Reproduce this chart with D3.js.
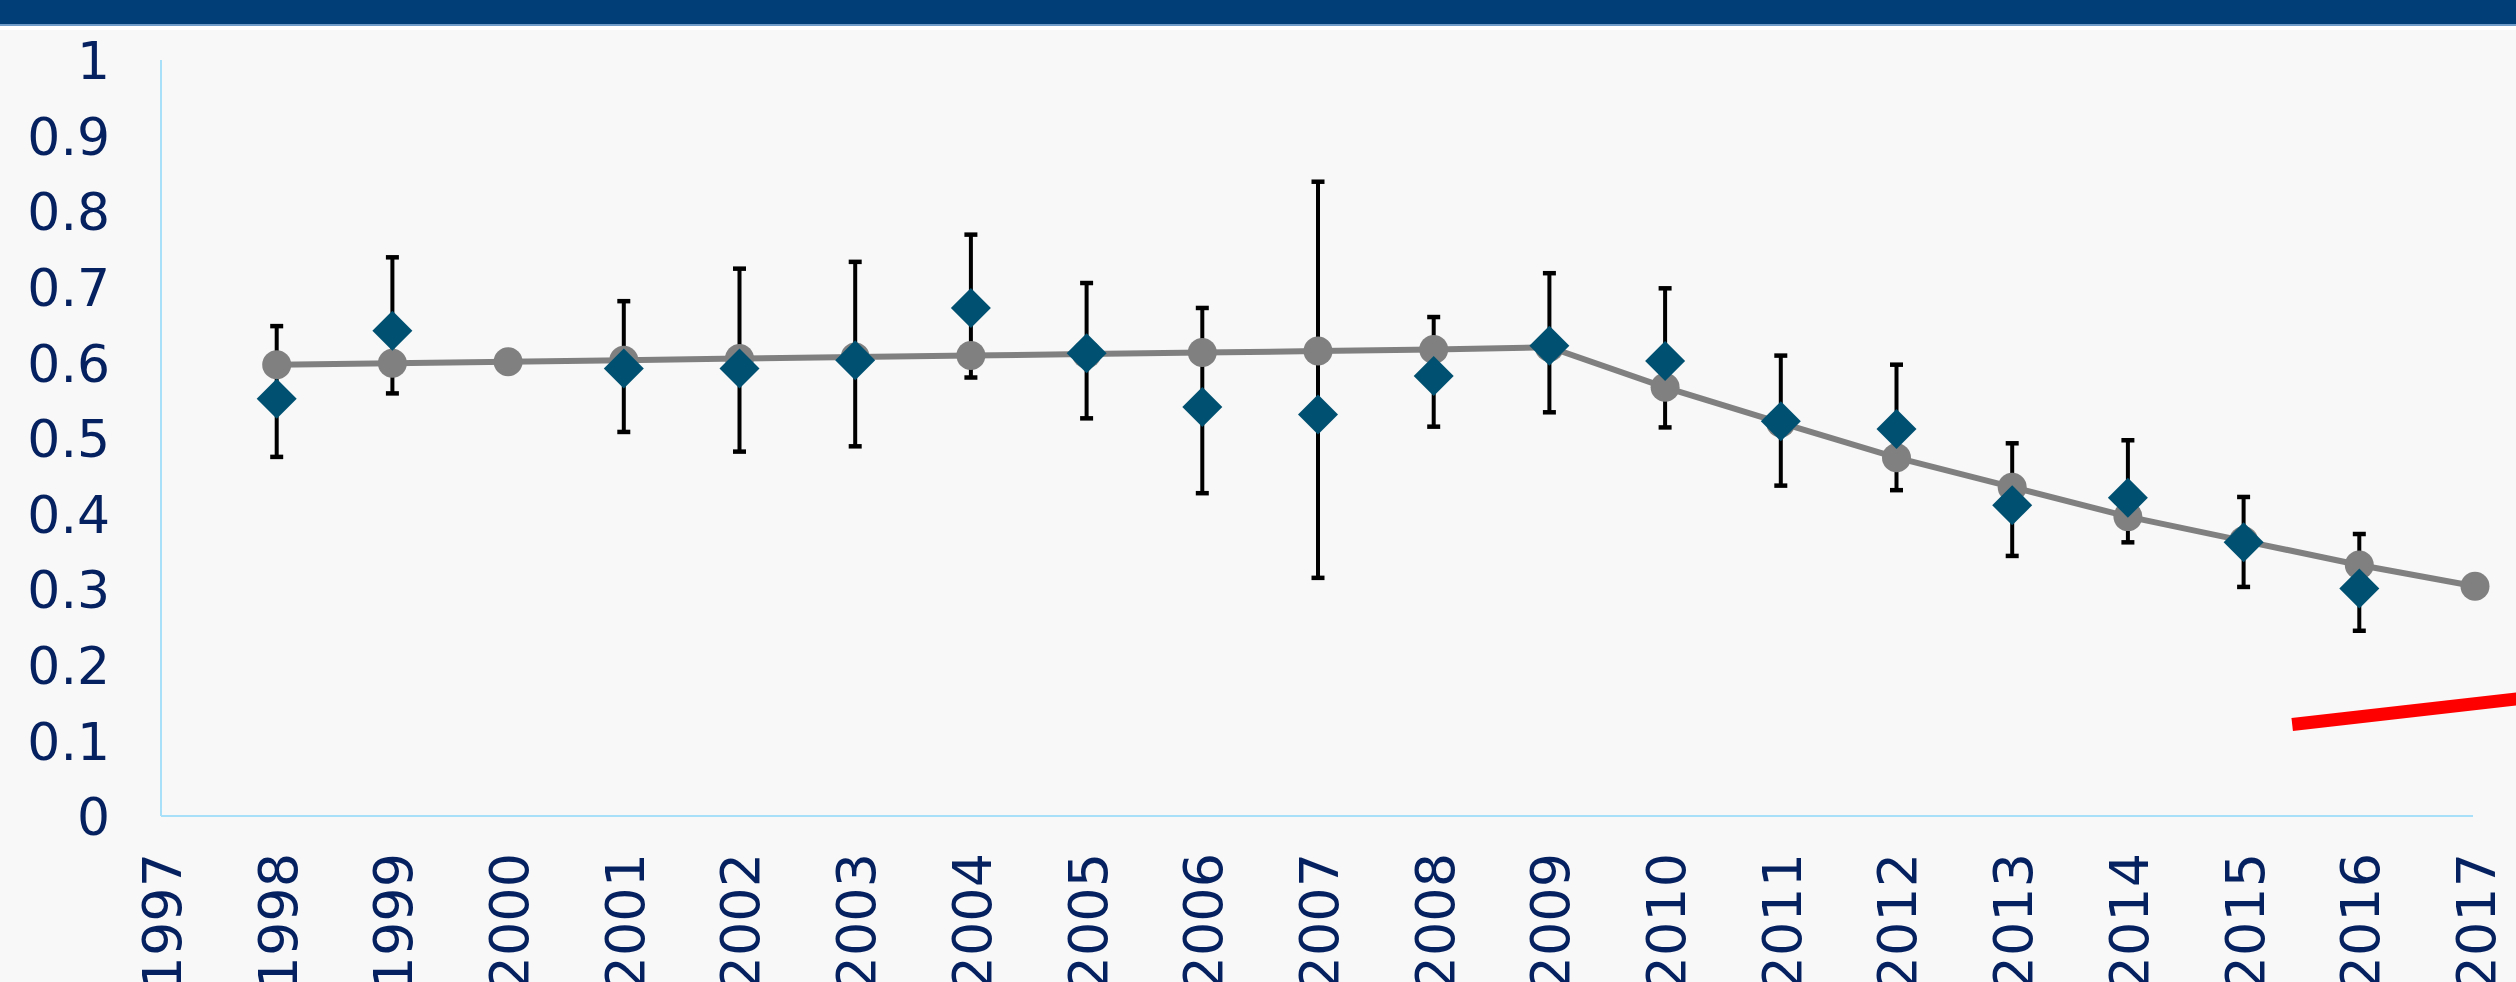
<!DOCTYPE html>
<html>
<head>
<meta charset="utf-8">
<script src="https://cdn.jsdelivr.net/npm/d3@7"></script>
<style>
  html, body { margin: 0; padding: 0; background: #f8f8f8; overflow: hidden; }
  svg { display: block; }
  text { font-family: "DejaVu Sans", Verdana, sans-serif; }
</style>
</head>
<body>
<svg id="chart" width="2516" height="982"></svg>
<script>
// ---- data ----
const tickYears = [1997,1998,1999,2000,2001,2002,2003,2004,2005,2006,2007,2008,2009,2010,2011,2012,2013,2014,2015,2016,2017];
const yTicks = [0,0.1,0.2,0.3,0.4,0.5,0.6,0.7,0.8,0.9,1];

const years = [1998,1999,2000,2001,2002,2003,2004,2005,2006,2007,2008,2009,2010,2011,2012,2013,2014,2015,2016,2017];
const trendValues = [0.597,0.599,0.601,0.603,0.605,0.607,0.609,0.611,0.613,0.615,0.617,0.620,0.567,0.520,0.474,0.435,0.396,0.364,0.332,0.304];
const observedValues = [0.552,0.642,null,0.592,0.592,0.603,0.672,0.612,0.541,0.531,0.582,0.622,0.602,0.522,0.512,0.411,0.421,0.362,0.301,null];
const upperValues = [0.648,0.739,null,0.681,0.724,0.733,0.769,0.705,0.672,0.839,0.660,0.718,0.698,0.609,0.597,0.493,0.497,0.422,0.373,null];
const lowerValues = [0.475,0.559,null,0.508,0.482,0.489,0.580,0.526,0.427,0.315,0.515,0.534,0.514,0.437,0.431,0.344,0.362,0.303,0.245,null];

const redYears = [2015.42, 2018];
const redValues = [0.121, 0.166];

// ---- layout ----
const svg = d3.select("#chart");
const W = 2516, H = 982;
const x = d3.scaleLinear().domain([1997, 2017]).range([161, 2475]);
const y = d3.scaleLinear().domain([0, 1]).range([816, 60]);

svg.append("rect").attr("width", W).attr("height", H).attr("fill", "#f8f8f8");
// header band
svg.append("rect").attr("x", 0).attr("y", 0).attr("width", W).attr("height", 24).attr("fill", "#013e78");
svg.append("rect").attr("x", 0).attr("y", 24).attr("width", W).attr("height", 2).attr("fill", "#6f9cc8");
svg.append("rect").attr("x", 0).attr("y", 26).attr("width", W).attr("height", 4).attr("fill", "#ffffff");

// axes lines
const axisColor = "#a8e0fa";
svg.append("line").attr("x1", x(1997)).attr("x2", x(1997)).attr("y1", y(1)).attr("y2", y(0))
  .attr("stroke", axisColor).attr("stroke-width", 2);
svg.append("line").attr("x1", x(1997)).attr("x2", x(2017) - 2).attr("y1", y(0)).attr("y2", y(0))
  .attr("stroke", axisColor).attr("stroke-width", 2);

// y axis labels
const yAxis = d3.axisLeft(y).tickValues(yTicks).tickFormat(d3.format("~g")).tickSize(0).tickPadding(0);
const yg = svg.append("g").attr("transform", "translate(110,0)").call(yAxis);
yg.select(".domain").remove();
yg.selectAll("text").attr("fill", "#06215f").style("font-size", "52px")
  .style("font-family", "'DejaVu Sans', Verdana, sans-serif").attr("dy", "0.36em");

// x axis labels (rotated)
const xAxis = d3.axisBottom(x).tickValues(tickYears).tickFormat(d3.format("d")).tickSize(0);
const xg = svg.append("g").attr("transform", "translate(0,853)").call(xAxis);
xg.select(".domain").remove();
xg.selectAll("text")
  .attr("fill", "#06215f").style("font-size", "54px")
  .style("font-family", "'DejaVu Sans', Verdana, sans-serif")
  .attr("text-anchor", "end")
  .attr("transform", "rotate(-90)")
  .attr("x", 0).attr("y", 0).attr("dy", "0.36em");

// data rows
const rows = years.map((yr, i) => ({
  year: yr, trend: trendValues[i], obs: observedValues[i], hi: upperValues[i], lo: lowerValues[i]
}));
const withObs = rows.filter(d => d.obs != null);

// error bars
const eb = svg.append("g").attr("stroke", "#000");
eb.selectAll("line.v").data(withObs).join("line").attr("class", "v")
  .attr("x1", d => x(d.year)).attr("x2", d => x(d.year))
  .attr("y1", d => y(d.hi)).attr("y2", d => y(d.lo)).attr("stroke-width", 4);
eb.selectAll("line.t").data(withObs).join("line").attr("class", "t")
  .attr("x1", d => x(d.year) - 6.5).attr("x2", d => x(d.year) + 6.5)
  .attr("y1", d => y(d.hi)).attr("y2", d => y(d.hi)).attr("stroke-width", 4.5);
eb.selectAll("line.b").data(withObs).join("line").attr("class", "b")
  .attr("x1", d => x(d.year) - 6.5).attr("x2", d => x(d.year) + 6.5)
  .attr("y1", d => y(d.lo)).attr("y2", d => y(d.lo)).attr("stroke-width", 4.5);

// trend line
const line = d3.line().x(d => x(d.year)).y(d => y(d.trend));
svg.append("path").datum(rows).attr("d", line)
  .attr("fill", "none").attr("stroke", "#808080").attr("stroke-width", 6);
svg.append("g").selectAll("circle").data(rows).join("circle")
  .attr("cx", d => x(d.year)).attr("cy", d => y(d.trend)).attr("r", 14.5).attr("fill", "#808080");

// diamonds
const hd = 20;
svg.append("g").selectAll("path").data(withObs).join("path")
  .attr("d", d => {
    const cx = x(d.year), cy = y(d.obs);
    return `M${cx},${cy - hd}L${cx + hd},${cy}L${cx},${cy + hd}L${cx - hd},${cy}Z`;
  })
  .attr("fill", "#005171");

// red line
const redData = redYears.map((yr, i) => ({ year: yr, v: redValues[i] }));
svg.append("path").datum(redData)
  .attr("d", d3.line().x(d => x(d.year)).y(d => y(d.v)))
  .attr("fill", "none").attr("stroke", "#ff0000").attr("stroke-width", 13);
</script>
</body>
</html>
